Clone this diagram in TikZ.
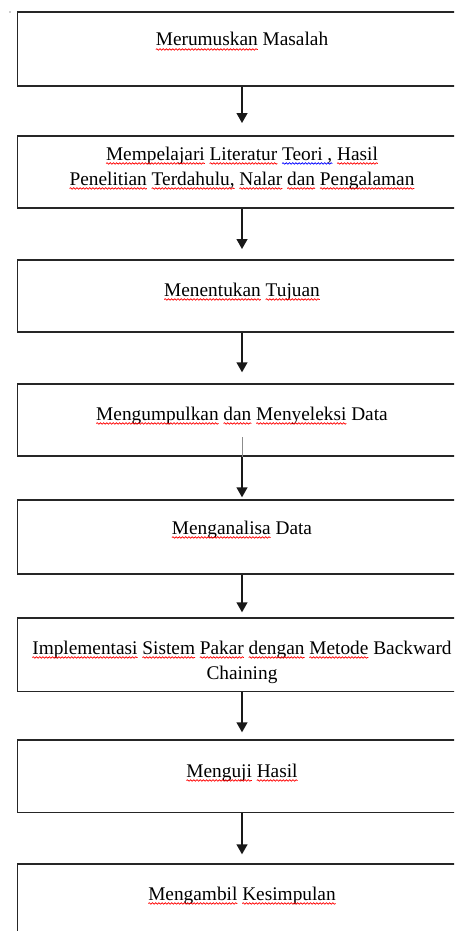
\documentclass[tikz,border=0pt]{standalone}
\usepackage{fontspec}
\setmainfont{Liberation Serif}
\usetikzlibrary{arrows.meta,decorations.pathmorphing}

% wavy proofing marks under single words
\newcommand\spellmark[2]{\tikz[baseline=(sw.base)]{%
  \node[inner sep=0pt, outer sep=0pt, anchor=base, draw=none] (sw) {#2};%
  \draw[#1, line width=0.55pt, overlay, decorate,
    decoration={snake, amplitude=0.55pt, segment length=2.4pt}]
    ([yshift=-2.6pt]sw.base west) -- ([yshift=-2.6pt]sw.base east);}}
\newcommand\sqr[1]{\spellmark{red}{#1}}
\newcommand\sqb[1]{\spellmark{blue}{#1}}

\tikzset{
  stepbox/.style={draw=black!85, line width=1.25pt, rectangle, anchor=north,
    minimum width=336.75pt, inner sep=0pt},
  steptext/.style={anchor=base, align=center, inner sep=0pt,
    font=\fontsize{14.5pt}{18.75pt}\selectfont},
  flow/.style={draw=black!90, line width=1.15pt, -{Triangle[width=8.2pt,length=7.5pt]}},
  tickline/.style={draw=black!45, line width=1pt}
}

\begin{document}
\begin{tikzpicture}[x=0.75pt,y=-0.75pt]
\clip (0,0) rectangle (454,931);
\fill[white] (0,0) rectangle (454,931);

% stray dot in the corner
\fill[black!40] (10,12) circle (0.9);

% boxes
\node[stepbox, minimum height=55.5pt] (b1) at (242,11) {};
\node[stepbox, minimum height=54pt]   (b2) at (242,135) {};
\node[stepbox, minimum height=54pt]   (b3) at (242,259) {};
\node[stepbox, minimum height=54pt]   (b4) at (242,383.3) {};
\node[stepbox, minimum height=55.5pt] (b5) at (242,499.3) {};
\node[stepbox, minimum height=55pt]   (b6) at (242,617.3) {};
\node[stepbox, minimum height=54.3pt] (b7) at (242,739.3) {};
\node[stepbox, minimum height=55pt]   (b8) at (242,863.3) {};

% labels (two-line labels are placed by the baseline of their last line)
\node[steptext] (t1) at (242,46) {\sqr{Merumuskan} Masalah};
\node[steptext] (t2) at (242,185) {\sqr{Mempelajari} \sqr{Literatur} \sqb{Teori ,} \sqr{Hasil}\\
  \sqr{Penelitian} \sqr{Terdahulu,} \sqr{Nalar} \sqr{dan} \sqr{Pengalaman}};
\node[steptext] (t3) at (242,296) {\sqr{Menentukan} \sqr{Tujuan}};
\node[steptext] (t4) at (242,420) {\sqr{Mengumpulkan} \sqr{dan} \sqr{Menyeleksi} Data};
\node[steptext] (t5) at (242,534) {\sqr{Menganalisa} Data};
\node[steptext] (t6) at (242,679) {\sqr{Implementasi} \sqr{Sistem} \sqr{Pakar} \sqr{dengan} \sqr{Metode} Backward\\ Chaining};
\node[steptext] (t7) at (242,777) {\sqr{Menguji} \sqr{Hasil}};
\node[steptext] (t8) at (242,900) {\sqr{Mengambil} \sqr{Kesimpulan}};

% short stub inside the fourth box
\coordinate (tk) at (242.5,437);
\draw[tickline] (tk) -- (tk |- b4.south);

% connectors
\draw[flow, shorten >=9pt]    (b1.south) -- (b2.north);
\draw[flow, shorten >=7.5pt]  (b2.south) -- (b3.north);
\draw[flow, shorten >=8.25pt] (b3.south) -- (b4.north);
\draw[flow, shorten >=1.5pt]  (b4.south) -- (b5.north);
\draw[flow, shorten >=3.75pt] (b5.south) -- (b6.north);
\draw[flow, shorten >=5.25pt] (b6.south) -- (b7.north);
\draw[flow, shorten >=6.75pt] (b7.south) -- (b8.north);
\end{tikzpicture}
\end{document}
